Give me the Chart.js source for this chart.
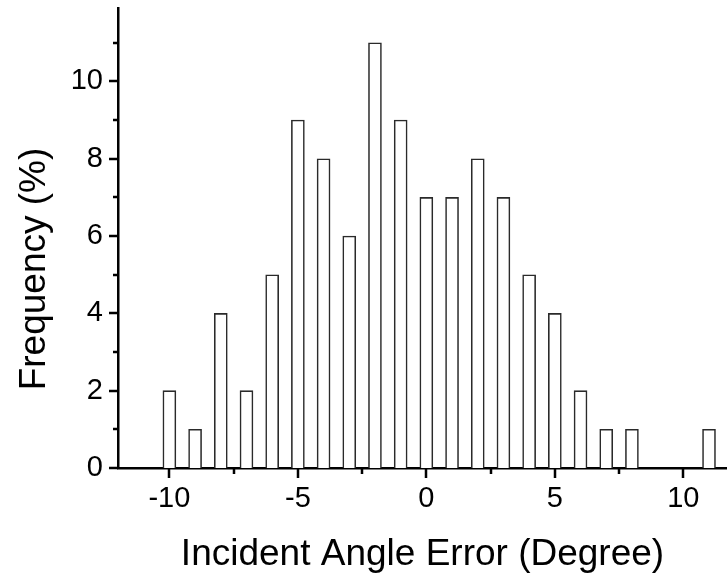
<!DOCTYPE html>
<html>
<head>
<meta charset="utf-8">
<script src="https://cdn.jsdelivr.net/npm/chart.js@4.4.1/dist/chart.umd.min.js"></script>
<style>
  html, body { margin: 0; padding: 0; background: #fff; }
  canvas { display: block; }
</style>
</head>
<body>
<canvas id="histChart" width="727" height="577"></canvas>
<script>
const angleBins = [-10, -9, -8, -7, -6, -5, -4, -3, -2, -1, 0, 1, 2, 3, 4, 5, 6, 7, 8, 9, 10, 11];
const frequency = [2, 1, 4, 2, 5, 9, 8, 6, 11, 9, 7, 7, 8, 7, 5, 4, 2, 1, 1, 0, 0, 1];
const xTickValues = [-10, -7.5, -5, -2.5, 0, 2.5, 5, 7.5, 10];
const yTickValues = [0, 1, 2, 3, 4, 5, 6, 7, 8, 9, 10, 11];
const xTitle = 'Incident Angle Error (Degree)';
const yTitle = 'Frequency (%)';

const FONT = '"Liberation Sans", Arial, sans-serif';

// minor/major tick marks and axis titles
const axisDecor = {
  id: 'axisDecor',
  afterDraw(chart) {
    const { ctx, chartArea, scales } = chart;
    const x = scales.x, y = scales.y;
    ctx.save();
    ctx.strokeStyle = '#000';
    ctx.lineWidth = 2.5;
    ctx.beginPath();
    xTickValues.forEach(v => {
      const px = Math.round(x.getPixelForValue(v));
      const len = v % 5 === 0 ? 10 : 6;
      ctx.moveTo(px, chartArea.bottom);
      ctx.lineTo(px, chartArea.bottom + len);
    });
    yTickValues.forEach(v => {
      const py = Math.round(y.getPixelForValue(v));
      const len = v % 2 === 0 ? 9 : 5;
      ctx.moveTo(chartArea.left, py);
      ctx.lineTo(chartArea.left - len, py);
    });
    ctx.stroke();

    ctx.fillStyle = '#000';
    ctx.font = '37px ' + FONT;
    ctx.textAlign = 'center';
    ctx.textBaseline = 'middle';
    ctx.fillText(xTitle, (chartArea.left + chartArea.right) / 2, 555);
    ctx.translate(35, (chartArea.top + chartArea.bottom) / 2 + 31);
    ctx.rotate(-Math.PI / 2);
    ctx.fillText(yTitle, 0, 0);
    ctx.restore();
  }
};

new Chart(document.getElementById('histChart'), {
  type: 'bar',
  data: {
    datasets: [
      {
        label: 'Frequency',
        data: angleBins.map((b, i) => ({ x: b, y: frequency[i] })),
        backgroundColor: '#fff',
        borderColor: '#2a2a2a',
        borderWidth: 1.6,
        barThickness: 13,
      },
    ],
  },
  options: {
    responsive: false,
    animation: false,
    layout: { padding: { top: 8, right: 0, left: 0, bottom: 0 } },
    plugins: {
      legend: { display: false },
      tooltip: { enabled: false },
    },
    scales: {
      x: {
        type: 'linear',
        min: -12,
        max: 11.7,
        offset: false,
        grid: { display: false, drawTicks: false },
        border: { display: true, color: '#000', width: 2.5 },
        afterBuildTicks: s => { s.ticks = xTickValues.map(v => ({ value: v })); },
        afterFit: s => { s.height = 109; s.paddingLeft = 0; s.paddingRight = 0; },
        ticks: {
          padding: 14,
          color: '#000',
          font: { family: FONT, size: 29 },
          maxRotation: 0,
          autoSkip: false,
          callback: v => (v % 5 === 0 ? String(v) : ''),
        },
      },
      y: {
        min: 0,
        max: 11.9,
        grid: { display: false, drawTicks: false },
        border: { display: true, color: '#000', width: 2.5 },
        afterBuildTicks: s => { s.ticks = yTickValues.map(v => ({ value: v })); },
        afterFit: s => { s.width = 118; s.paddingTop = 0; s.paddingBottom = 0; },
        ticks: {
          padding: 15,
          color: '#000',
          font: { family: FONT, size: 29 },
          autoSkip: false,
          callback: v => (v % 2 === 0 ? String(v) : ''),
        },
      },
    },
  },
  plugins: [axisDecor],
});
</script>
</body>
</html>
